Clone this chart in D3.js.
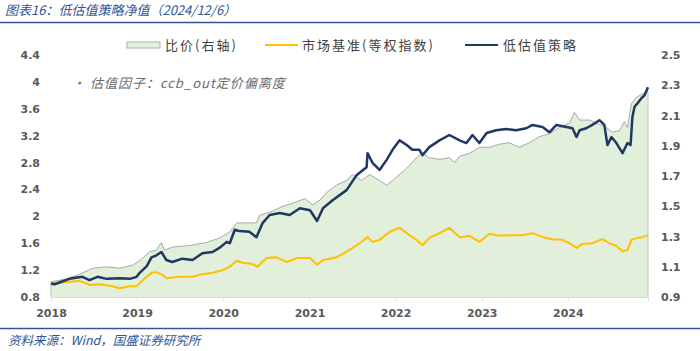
<!DOCTYPE html>
<html lang="zh">
<head>
<meta charset="UTF-8">
<title>低估值策略净值</title>
<script src="https://d3js.org/d3.v7.min.js"></script>
<style>
  body { margin: 0; background: #fff; }
  svg { display: block; }
  .axis text { font-family: "DejaVu Sans", sans-serif; font-weight: bold; font-size: 11px; fill: #595959; }
  .cn { font-family: "Noto Sans CJK SC", sans-serif; }
  .legend text { font-size: 13px; fill: #404040; letter-spacing: 2px; }
</style>
</head>
<body>
<svg width="700" height="351"></svg>
<script>
// 低估值策略（左轴）
const stratDates = ["2018-01-01","2018-01-17","2018-02-08","2018-03-20","2018-05-14","2018-06-13","2018-07-17","2018-08-25","2018-10-19","2018-12-01","2018-12-30",
  "2019-01-12","2019-02-11","2019-03-03","2019-03-24","2019-04-14","2019-05-05","2019-05-30","2019-07-12","2019-08-24","2019-10-05","2019-11-17","2019-12-16",
  "2020-01-16","2020-01-29","2020-02-19","2020-03-10","2020-04-21","2020-05-21","2020-06-16","2020-07-16","2020-08-28","2020-10-09","2020-11-21",
  "2021-01-03","2021-02-02","2021-02-27","2021-04-09","2021-06-07","2021-07-19","2021-08-31","2021-09-04","2021-09-26","2021-10-25","2021-11-24","2021-12-19",
  "2022-01-18","2022-02-17","2022-03-13","2022-04-12","2022-04-25","2022-05-24","2022-07-06","2022-08-17","2022-09-29","2022-10-28","2022-11-23","2022-12-22",
  "2023-01-22","2023-03-03","2023-04-15","2023-05-27","2023-07-09","2023-08-04","2023-09-16","2023-10-15","2023-11-14","2023-12-26",
  "2024-01-21","2024-02-07","2024-02-20","2024-03-19","2024-04-14","2024-05-14","2024-06-04","2024-06-17","2024-07-04","2024-07-25","2024-08-20","2024-09-10","2024-09-23",
  "2024-10-01","2024-10-10","2024-10-22","2024-11-09","2024-11-21","2024-12-06"];
const stratValues = [1.00,0.99,1.02,1.07,1.10,1.05,1.10,1.07,1.08,1.07,1.10,
  1.16,1.26,1.39,1.42,1.47,1.35,1.32,1.37,1.35,1.45,1.47,1.53,
  1.62,1.60,1.80,1.78,1.77,1.69,1.90,2.02,2.05,2.02,2.12,
  2.09,1.93,2.12,2.24,2.39,2.61,2.73,2.94,2.79,2.69,2.84,2.99,
  3.13,3.06,2.99,2.99,2.91,3.03,3.13,3.21,3.13,3.09,3.21,3.09,
  3.24,3.28,3.30,3.28,3.31,3.36,3.33,3.25,3.36,3.33,
  3.31,3.18,3.28,3.31,3.36,3.43,3.36,3.06,3.18,3.09,2.94,3.09,3.06,
  3.48,3.63,3.68,3.76,3.80,3.92];

// 市场基准（等权指数，左轴）
const benchDates = ["2018-01-01","2018-03-07","2018-05-02","2018-06-13","2018-07-25","2018-09-19","2018-10-19","2018-12-01","2018-12-30",
  "2019-01-25","2019-03-03","2019-03-24","2019-04-18","2019-05-05","2019-06-29","2019-08-24","2019-10-05","2019-11-17","2019-12-29",
  "2020-01-29","2020-02-27","2020-03-22","2020-05-04","2020-05-25","2020-07-03","2020-08-15","2020-09-27","2020-11-08",
  "2021-01-03","2021-02-02","2021-02-27","2021-04-26","2021-06-20","2021-08-01","2021-09-04","2021-09-26","2021-10-25","2021-12-07",
  "2022-01-18","2022-02-17","2022-03-30","2022-04-25","2022-05-24","2022-07-06","2022-08-17","2022-09-29","2022-11-10","2022-12-22",
  "2023-02-04","2023-03-16","2023-05-10","2023-06-22","2023-08-04","2023-09-16","2023-10-28","2023-12-09",
  "2024-01-08","2024-02-07","2024-03-02","2024-04-14","2024-05-26","2024-06-25","2024-07-25","2024-08-20","2024-09-10","2024-09-27",
  "2024-10-22","2024-11-13","2024-12-06"];
const benchValues = [1.00,1.02,1.04,0.98,0.99,0.96,0.93,0.96,0.96,
  1.05,1.16,1.17,1.13,1.08,1.10,1.10,1.14,1.16,1.20,
  1.25,1.34,1.31,1.29,1.25,1.38,1.39,1.32,1.38,
  1.38,1.28,1.35,1.39,1.50,1.60,1.69,1.62,1.65,1.77,
  1.83,1.75,1.65,1.57,1.68,1.75,1.83,1.69,1.71,1.62,
  1.74,1.71,1.72,1.72,1.75,1.69,1.66,1.65,
  1.60,1.53,1.59,1.60,1.66,1.60,1.56,1.48,1.50,1.65,
  1.68,1.69,1.72];

// 比价（右轴）
const ratioDates = ["2018-01-01","2018-03-07","2018-05-02","2018-06-26","2018-08-25","2018-10-19","2018-12-13",
  "2019-01-12","2019-02-24","2019-03-24","2019-04-14","2019-04-27","2019-05-30","2019-08-11","2019-10-22","2019-12-16",
  "2020-01-29","2020-02-27","2020-04-09","2020-05-21","2020-06-03","2020-07-16","2020-09-10","2020-10-22","2020-12-12",
  "2021-01-15","2021-02-14","2021-03-14","2021-04-26","2021-06-07","2021-07-02","2021-08-10","2021-09-13","2021-10-25","2021-11-24","2021-12-19",
  "2022-02-01","2022-03-01","2022-03-30","2022-04-25","2022-05-24","2022-07-06","2022-08-17","2022-09-08","2022-09-29","2022-11-10","2022-12-22",
  "2023-02-04","2023-03-16","2023-04-28","2023-06-09","2023-07-22","2023-09-03","2023-10-15","2023-11-27",
  "2024-01-08","2024-01-29","2024-02-20","2024-04-02","2024-05-01","2024-06-13","2024-07-08","2024-08-07","2024-08-28","2024-09-10",
  "2024-09-27","2024-10-18","2024-11-09","2024-12-06"];
const ratioValues = [1.00,1.02,1.05,1.09,1.10,1.09,1.11,
  1.14,1.20,1.21,1.26,1.21,1.23,1.24,1.26,1.29,
  1.33,1.39,1.39,1.39,1.44,1.46,1.50,1.52,1.55,
  1.51,1.54,1.59,1.64,1.67,1.71,1.67,1.71,1.67,1.64,1.67,
  1.73,1.77,1.82,1.85,1.82,1.81,1.82,1.79,1.83,1.85,1.89,
  1.89,1.91,1.92,1.89,1.92,1.96,1.98,2.02,
  2.05,2.12,2.07,2.07,2.05,2.02,1.99,2.00,2.06,2.02,
  2.18,2.22,2.24,2.26];

const leftTicks = [0.8, 1.2, 1.6, 2, 2.4, 2.8, 3.2, 3.6, 4, 4.4];
const rightTicks = [0.9, 1.1, 1.3, 1.5, 1.7, 1.9, 2.1, 2.3, 2.5];
const yearTicks = ["2018","2019","2020","2021","2022","2023","2024"];

const parse = d3.timeParse("%Y-%m-%d");
const strat = stratDates.map((d, i) => ({date: parse(d), value: stratValues[i]}));
const bench = benchDates.map((d, i) => ({date: parse(d), value: benchValues[i]}));
const ratio = ratioDates.map((d, i) => ({date: parse(d), value: ratioValues[i]}));

const svg = d3.select("svg");
const margin = {top: 55, right: 52, bottom: 54, left: 51};
const width = 700 - margin.left - margin.right,
      height = 351 - margin.top - margin.bottom;

const x = d3.scaleTime()
  .domain([parse("2018-01-01"), parse("2024-12-06")])
  .range([margin.left, margin.left + width]);
const yL = d3.scaleLinear().domain([0.8, 4.4]).range([margin.top + height, margin.top]);
const yR = d3.scaleLinear().domain([0.9, 2.5]).range([margin.top + height, margin.top]);

// 标题
svg.append("text").attr("class", "cn")
  .attr("x", 5).attr("y", 15)
  .style("font-size", "13px").style("font-style", "italic").style("fill", "#2f5597")
  .text("图表16：低估值策略净值（2024/12/6）");
svg.append("line").attr("x1", 0).attr("x2", 700).attr("y1", 22.5).attr("y2", 22.5)
  .attr("stroke", "#2f5597").attr("stroke-width", 1.5);

// 比价面积
svg.append("path").datum(ratio)
  .attr("fill", "#e2efda")
  .attr("d", d3.area().x(d => x(d.date)).y0(yR(0.9)).y1(d => yR(d.value)));
svg.append("path").datum(ratio)
  .attr("fill", "none").attr("stroke", "#a9a9a9").attr("stroke-width", 1)
  .attr("d", d3.line().x(d => x(d.date)).y(d => yR(d.value)));
[ratio[0], ratio[ratio.length - 1]].forEach(d => {
  svg.append("line")
    .attr("x1", x(d.date)).attr("x2", x(d.date))
    .attr("y1", yR(d.value)).attr("y2", yR(0.9))
    .attr("stroke", "#c0c0c0").attr("stroke-width", 1);
});

// 坐标轴
const xAxis = svg.append("g").attr("class", "axis")
  .attr("transform", `translate(0,${margin.top + height})`)
  .call(d3.axisBottom(x).tickValues(yearTicks.map(y => parse(y + "-01-01")))
    .tickFormat(d3.timeFormat("%Y")).tickSize(4).tickPadding(8));
xAxis.select(".domain").attr("stroke", "#d9d9d9");
xAxis.selectAll(".tick line").attr("stroke", "#d9d9d9");

const fmt = d => String(+d.toFixed(1));
const leftAxis = svg.append("g").attr("class", "axis")
  .attr("transform", `translate(${margin.left},0)`)
  .call(d3.axisLeft(yL).tickValues(leftTicks).tickFormat(fmt).tickSize(0).tickPadding(11));
leftAxis.select(".domain").remove();

const rightAxis = svg.append("g").attr("class", "axis")
  .attr("transform", `translate(${margin.left + width},0)`)
  .call(d3.axisRight(yR).tickValues(rightTicks).tickFormat(fmt).tickSize(0).tickPadding(13));
rightAxis.select(".domain").remove();

// 折线
const line = d3.line().x(d => x(d.date)).y(d => yL(d.value));
svg.append("path").datum(bench)
  .attr("fill", "none").attr("stroke", "#ffc000").attr("stroke-width", 2)
  .attr("stroke-linejoin", "round").attr("d", line);
svg.append("path").datum(strat)
  .attr("fill", "none").attr("stroke", "#1f3864").attr("stroke-width", 2.5)
  .attr("stroke-linejoin", "round").attr("d", line);

// 图例
const legend = svg.append("g").attr("class", "legend cn");
legend.append("rect").attr("x", 127).attr("y", 42).attr("width", 33).attr("height", 6)
  .attr("fill", "#e2efda").attr("stroke", "#b0b0b0");
legend.append("text").attr("x", 165).attr("y", 45).attr("dy", "0.35em").text("比价(右轴)");
legend.append("line").attr("x1", 265).attr("x2", 298).attr("y1", 45).attr("y2", 45)
  .attr("stroke", "#ffc000").attr("stroke-width", 2);
legend.append("text").attr("x", 302).attr("y", 45).attr("dy", "0.35em").text("市场基准(等权指数)");
legend.append("line").attr("x1", 465).attr("x2", 498).attr("y1", 45).attr("y2", 45)
  .attr("stroke", "#1f3864").attr("stroke-width", 2);
legend.append("text").attr("x", 503).attr("y", 45).attr("dy", "0.35em").text("低估值策略");

// 注释
svg.append("text").attr("class", "cn")
  .attr("x", 72).attr("y", 83).attr("dy", "0.35em")
  .style("font-size", "13px").style("font-style", "italic").style("fill", "#6b6b6b")
  .style("letter-spacing", "1px")
  .text("• 估值因子：ccb_out定价偏离度");

// 来源
svg.append("line").attr("x1", 0).attr("x2", 700).attr("y1", 328.5).attr("y2", 328.5)
  .attr("stroke", "#2f5597").attr("stroke-width", 1.5);
svg.append("text").attr("class", "cn")
  .attr("x", 8).attr("y", 341).attr("dy", "0.35em")
  .style("font-size", "12.5px").style("font-style", "italic").style("fill", "#2f5597")
  .text("资料来源：Wind，国盛证券研究所");
</script>
</body>
</html>
